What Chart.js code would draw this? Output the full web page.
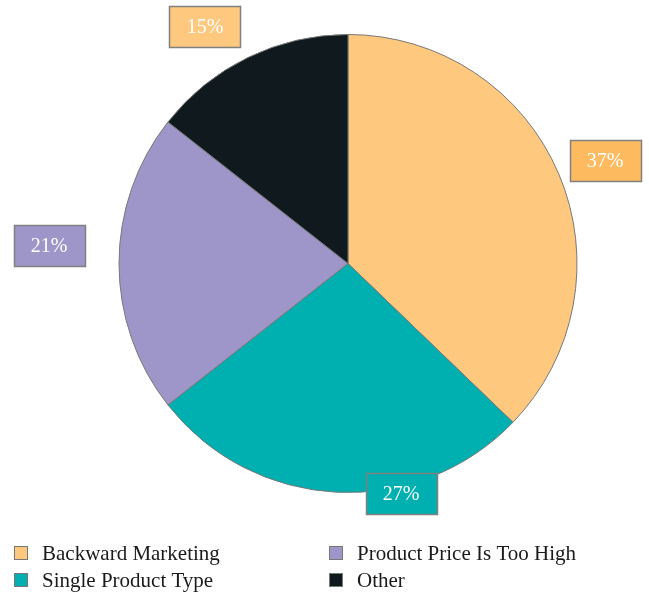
<!DOCTYPE html>
<html>
<head>
<meta charset="utf-8">
<script src="https://cdn.jsdelivr.net/npm/chart.js@4/dist/chart.umd.min.js"></script>
<style>
html,body{margin:0;padding:0;background:#fff;}
#c{display:block;}
</style>
</head>
<body>
<canvas id="c" width="649" height="594"></canvas>
<script>
const categories = ["Backward Marketing", "Single Product Type", "Product Price Is Too High", "Other"];
// slice sizes as measured from the pie's geometry
const values = [37.2, 27.2, 21.2, 14.4];
const labelTexts = ["37%", "27%", "21%", "15%"];
const sliceColors = ["#FEC97F", "#00AFAF", "#9E95C8", "#101A1E"];
const labelBoxColors = ["#FDBA5E", "#00AFAF", "#9E95C8", "#FEC97F"];
// label box placement around the pie (angle in degrees from +x, clockwise; radius as factor of pie radius)
const labelAngleDeg = [-21.8, 77.0, 183.45, 238.9];
const labelRadiusFactor = [1.209, 1.031, 1.308, 1.209];

const FONT = "'Liberation Serif', 'DejaVu Serif', serif";

const labelPlugin = {
  id: 'boxLabels',
  afterDatasetsDraw(chart) {
    const ctx = chart.ctx;
    const meta = chart.getDatasetMeta(0);
    meta.data.forEach((arc, i) => {
      const p = arc.getProps(['x','y','outerRadius'], true);
      const a = labelAngleDeg[i] * Math.PI / 180;
      const r = p.outerRadius * labelRadiusFactor[i];
      const cx = p.x + Math.cos(a) * r;
      const cy = p.y + Math.sin(a) * r;
      const w = 71, h = 41;
      const x0 = Math.round(cx - w/2) + 0.5, y0 = Math.round(cy - h/2) + 0.5;
      ctx.save();
      ctx.fillStyle = labelBoxColors[i];
      ctx.fillRect(x0, y0, w, h);
      ctx.strokeStyle = '#808080';
      ctx.lineWidth = 1.5;
      ctx.strokeRect(x0, y0, w, h);
      ctx.fillStyle = '#ffffff';
      ctx.font = '20px ' + FONT;
      ctx.textAlign = 'center';
      ctx.textBaseline = 'middle';
      ctx.fillText(labelTexts[i], cx, cy + 1);
      ctx.restore();
    });
  }
};

const legendPlugin = {
  id: 'gridLegend',
  afterDraw(chart) {
    const ctx = chart.ctx;
    const colX = [14, 329];
    const rowY = [553, 580];
    const ds = chart.data.datasets[0];
    chart.data.labels.forEach((lab, i) => {
      const col = i < 2 ? 0 : 1;
      const row = i % 2;
      const x = colX[col], y = rowY[row];
      ctx.save();
      ctx.fillStyle = ds.backgroundColor[i];
      ctx.fillRect(x, y - 7, 14, 14);
      ctx.strokeStyle = '#777';
      ctx.lineWidth = 1;
      ctx.strokeRect(x + 0.5, y - 6.5, 13, 13);
      ctx.fillStyle = '#1a1a1a';
      ctx.font = '21px ' + FONT;
      ctx.textAlign = 'left';
      ctx.textBaseline = 'middle';
      ctx.fillText(lab, x + 28, y + 1);
      ctx.restore();
    });
  }
};

new Chart(document.getElementById('c'), {
  type: 'pie',
  data: {
    labels: categories,
    datasets: [{
      data: values,
      backgroundColor: sliceColors,
      borderColor: '#777777',
      borderWidth: 1
    }]
  },
  options: {
    responsive: false,
    animation: false,
    layout: { padding: { top: 34, bottom: 101, left: 47, right: 0 } },
    plugins: {
      legend: { display: false },
      tooltip: { enabled: false }
    }
  },
  plugins: [labelPlugin, legendPlugin]
});
</script>
</body>
</html>
